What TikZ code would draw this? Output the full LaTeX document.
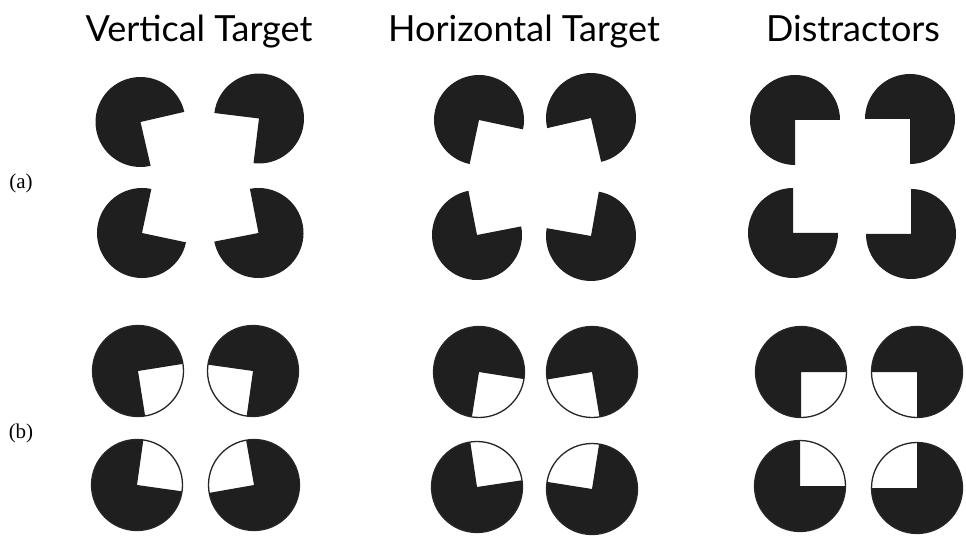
\documentclass[tikz,border=0pt]{standalone}
\usepackage{fontspec}
\setmainfont{Liberation Serif}
\newfontfamily\titlefont{Lato}
\begin{document}
\begin{tikzpicture}[x=1pt,y=1pt,
  pacfill/.style={fill=black!88},
  ring/.style={draw=black!85,line width=1.3pt},
  ttl/.style={font=\titlefont\fontsize{36}{40}\selectfont,anchor=base,inner sep=0pt},
  lbl/.style={font=\fontsize{21}{24}\selectfont,inner sep=0pt}]
\useasboundingbox (0,0) rectangle (966,-537);
% pacman without outline: #1 name, #2 x, #3 y (image coords), #4 wedge start angle
\newcommand\pacA[4]{%
  \coordinate (#1) at (#2,-#3);
  \fill[pacfill] (#1) -- +({#4+90}:45) arc[start angle={#4+90}, end angle={#4+360}, radius=45] -- cycle;}
\newcommand\pacB[4]{%
  \coordinate (#1) at (#2,-#3);
  \fill[pacfill] (#1) -- +({#4+90}:45.5) arc[start angle={#4+90}, end angle={#4+360}, radius=45.5] -- cycle;
  \draw[ring] (#1) circle[radius=45.5];}
% titles
\node[ttl] (t1) at (199,-42) {Vertical Target};
\node[ttl] (t2) at (524,-42) {Horizontal Target};
\node[ttl] (t3) at (853,-42) {Distractors};
% row labels
\node[lbl] (la) at (21,-183) {(a)};
\node[lbl] (lb) at (21,-433) {(b)};
% row a: vertical target
\pacA{a1}{140.5}{122}{-77}
\pacA{a2}{259}{118.5}{173}
\pacA{a3}{142}{233}{-12}
\pacA{a4}{258.5}{233}{101}
% row a: horizontal target
\pacA{a5}{479}{120}{-102}
\pacA{a6}{591}{118}{193}
\pacA{a7}{477}{235}{11}
\pacA{a8}{591}{236}{80}
% row a: distractors
\pacA{a9}{795}{120}{-90}
\pacA{a10}{910}{119}{180}
\pacA{a11}{793}{233}{0}
\pacA{a12}{911}{234}{90}
% row b: vertical target
\pacB{b1}{138}{371}{-81}
\pacB{b2}{253}{371}{172}
\pacB{b3}{137}{485}{-8}
\pacB{b4}{254}{485}{100}
% row b: horizontal target
\pacB{b5}{479}{372}{-99}
\pacB{b6}{592}{372}{189.5}
\pacB{b7}{477}{487}{8.5}
\pacB{b8}{592}{489}{81}
% row b: distractors
\pacB{b9}{801}{372}{-90}
\pacB{b10}{917}{372}{180}
\pacB{b11}{800}{486}{0}
\pacB{b12}{917}{488}{90}
\end{tikzpicture}
\end{document}
